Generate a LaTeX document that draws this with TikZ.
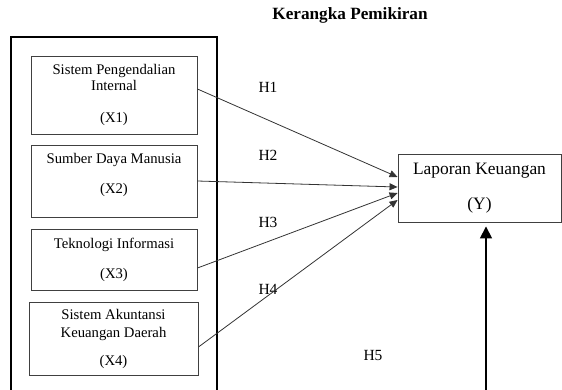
\documentclass[tikz,border=0pt]{standalone}
\usepackage{fontspec}
\setmainfont{Liberation Serif}
\usetikzlibrary{positioning, shapes, arrows.meta, calc}

\begin{document}
\begin{tikzpicture}[x=1pt, y=-1pt,
  varbox/.style={draw=black!75, line width=0.9pt, rectangle, align=center, inner sep=0pt,
    font=\fontsize{14.7}{16}\selectfont},
  hlabel/.style={font=\fontsize{15.5}{17}\selectfont},
  link/.style={draw=black!80, line width=0.8pt, -{Triangle[length=8pt, width=7pt]}}]
  \useasboundingbox (0,0) rectangle (562,389);
  \node[font=\bfseries\fontsize{17.2}{19}\selectfont] (title) at (350,15) {Kerangka Pemikiran};
  % outer frame, runs past the lower edge
  \draw[line width=1.8pt] (11,420) -- (11,37) -- (217,37) -- (217,420);
  \node[varbox, minimum width=166pt, minimum height=78pt] (x1) at (114,95)
    {Sistem Pengendalian\\Internal\\[16pt](X1)};
  \node[varbox, minimum width=166pt, minimum height=72pt] (x2) at (114,181)
    {Sumber Daya Manusia\\[14pt](X2)\\\mbox{}};
  \node[varbox, minimum width=166pt, minimum height=61pt] (x3) at (114,259.5)
    {Teknologi Informasi\\[14pt](X3)};
  \node[varbox, minimum width=169pt, minimum height=73pt] (x4) at (113.5,338.5)
    {Sistem Akuntansi\\[2pt]Keuangan Daerah\\[12pt](X4)};
  \node[varbox, minimum width=163pt, minimum height=68pt,
    font=\fontsize{17.4}{19}\selectfont] (y) at (479.5,188)
    {Laporan Keuangan\\[16pt](Y)};
  \node[hlabel] (h1) at (268,87) {H1};
  \node[hlabel] (h2) at (268,155) {H2};
  \node[hlabel] (h3) at (268,222) {H3};
  \node[hlabel] (h4) at (268,289) {H4};
  \node[hlabel] (h5) at (373,355) {H5};
  \coordinate (src5) at (486,420);
  \draw[link] ([yshift=6pt]x1.east) -- ([yshift=11pt]y.west);
  \draw[link] (x2.east) -- ([yshift=1pt]y.west);
  \draw[link] ([yshift=-8.5pt]x3.east) -- ([yshift=-5pt]y.west);
  \draw[link] ([yshift=-8.5pt]x4.east) -- ([yshift=-12pt]y.west);
  \draw[line width=1.6pt, -{Triangle[length=12pt, width=12pt]}] (src5) -- ([yshift=-4pt]src5 |- y.south);
\end{tikzpicture}
\end{document}
